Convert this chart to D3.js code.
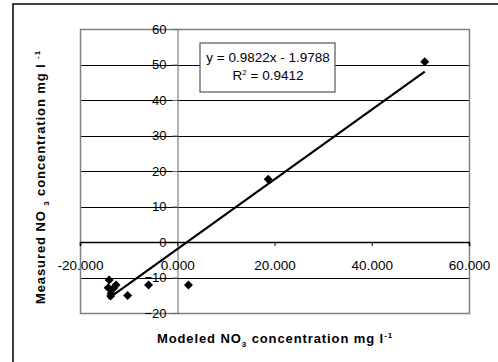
<!DOCTYPE html>
<html>
<head>
<meta charset="utf-8">
<script src="https://d3js.org/d3.v7.min.js"></script>
<style>
  body { margin: 0; background: #fff; }
  text { font-family: "Liberation Sans", Arial, sans-serif; }
</style>
</head>
<body>
<div id="my_dataviz"></div>
<script>
// modeled (x) vs measured (y) NO3
var modeled  = [-14.0, -14.2, -12.6, -13.1, -13.6, -13.7, -10.2, -5.9, 2.3, 18.7, 50.9];
var measured = [-10.7, -12.9, -12.1, -13.0, -14.5, -15.2, -15.1, -12.1, -12.1, 17.7, 50.8];
var xTicks = [-20, 0, 20, 40, 60];
var xTickLabels = ["-20.000", "0.000", "20.000", "40.000", "60.000"];
var yTicks = [-20, -10, 0, 10, 20, 30, 40, 50, 60];
var trend = [0.9822, -1.9788];   // slope, intercept
var r2 = 0.9412;

var W = 498, H = 362;
var plot = { left: 80, top: 29, right: 469, bottom: 313 };

var svg = d3.select("#my_dataviz").append("svg")
    .attr("width", W)
    .attr("height", H);

// outer chart frame (runs off the right and bottom edge)
svg.append("rect")
    .attr("x", 13).attr("y", 4)
    .attr("width", W + 20).attr("height", H + 20)
    .attr("fill", "#fff")
    .attr("stroke", "#000")
    .attr("stroke-width", 1.5);

var x = d3.scaleLinear().domain([-20, 60]).range([plot.left, plot.right]);
var y = d3.scaleLinear().domain([-20, 60]).range([plot.bottom, plot.top]);

// gridlines
svg.selectAll(".grid")
    .data(yTicks.filter(function(d) { return d != 0; }))
    .enter()
    .append("line")
    .attr("x1", plot.left).attr("x2", plot.right)
    .attr("y1", function(d) { return Math.round(y(d)) + 0.5; })
    .attr("y2", function(d) { return Math.round(y(d)) + 0.5; })
    .attr("stroke", "#000")
    .attr("stroke-width", 1);

// plot area border
svg.append("rect")
    .attr("x", plot.left + 0.5).attr("y", plot.top + 0.5)
    .attr("width", plot.right - plot.left).attr("height", plot.bottom - plot.top)
    .attr("fill", "none")
    .attr("stroke", "#808080")
    .attr("stroke-width", 1.5);

// y axis at x = 0
var yAxis = svg.append("g")
    .attr("transform", "translate(" + (Math.round(x(0)) + 0.5) + ",0)")
    .call(d3.axisLeft(y).tickValues(yTicks).tickSize(5).tickPadding(6).tickFormat(d3.format("d")));
yAxis.select(".domain").attr("stroke", "#666");
yAxis.selectAll(".tick line").attr("stroke", "#666");
yAxis.selectAll("text")
    .attr("font-size", 13)
    .attr("fill", "#000")
    .style("font-family", "'Liberation Sans', Arial, sans-serif");

// x axis at y = 0
var xAxis = svg.append("g")
    .attr("transform", "translate(0," + Math.round(y(0)) + ")")
    .call(d3.axisBottom(x).tickValues(xTicks).tickSize(4).tickPadding(14)
        .tickFormat(function(d, i) { return xTickLabels[i]; }));
xAxis.select(".domain").attr("stroke", "#000").attr("stroke-width", 1.6);
xAxis.selectAll(".tick line").attr("stroke", "#000");
xAxis.selectAll("text")
    .attr("font-size", 13.5)
    .attr("fill", "#000")
    .style("font-family", "'Liberation Sans', Arial, sans-serif");

// trendline over the data range
var ext = d3.extent(modeled);
var line = d3.line()
    .x(function(d) { return x(d); })
    .y(function(d) { return y(trend[0] * d + trend[1]); });
svg.append("path")
    .datum(ext)
    .attr("d", line)
    .attr("fill", "none")
    .attr("stroke", "#000")
    .attr("stroke-width", 2.2);

// diamond markers
var pts = modeled.map(function(d, i) { return { x: d, y: measured[i] }; });
svg.selectAll(".dot")
    .data(pts)
    .enter()
    .append("path")
    .attr("class", "dot")
    .attr("d", d3.symbol().type(d3.symbolDiamond2).size(52))
    .attr("transform", function(d) { return "translate(" + x(d.x) + "," + y(d.y) + ")"; })
    .attr("fill", "#000");

// equation box
svg.append("rect")
    .attr("x", 200).attr("y", 43)
    .attr("width", 135).attr("height", 49)
    .attr("fill", "#fff")
    .attr("stroke", "#555")
    .attr("stroke-width", 1.2);
svg.append("text")
    .attr("x", 268).attr("y", 62)
    .attr("text-anchor", "middle")
    .attr("font-size", 13.5)
    .text("y = " + trend[0] + "x - " + Math.abs(trend[1]));
var r2t = svg.append("text")
    .attr("x", 268).attr("y", 80)
    .attr("text-anchor", "middle")
    .attr("font-size", 13.5);
r2t.append("tspan").text("R");
r2t.append("tspan").attr("font-size", 8).attr("dy", -5).text("2");
r2t.append("tspan").attr("dy", 5).text(" = " + r2);

// axis titles
var xt = svg.append("text")
    .attr("x", 275).attr("y", 343)
    .attr("text-anchor", "middle")
    .attr("font-size", 13)
    .attr("letter-spacing", 0.9)
    .attr("font-weight", "bold");
xt.append("tspan").text("Modeled NO");
xt.append("tspan").attr("font-size", 8).attr("dy", 4).text("3");
xt.append("tspan").attr("dy", -4).text(" concentration mg l");
xt.append("tspan").attr("font-size", 8).attr("dy", -5).text("-1");

var yt = svg.append("text")
    .attr("transform", "translate(45,177) rotate(-90)")
    .attr("text-anchor", "middle")
    .attr("font-size", 13)
    .attr("letter-spacing", 0.9)
    .attr("font-weight", "bold");
yt.append("tspan").text("Measured NO ");
yt.append("tspan").attr("font-size", 8).attr("dy", 4).text("3");
yt.append("tspan").attr("dy", -4).text(" concentration mg l ");
yt.append("tspan").attr("font-size", 8).attr("dy", -5).text("-1");
</script>
</body>
</html>
